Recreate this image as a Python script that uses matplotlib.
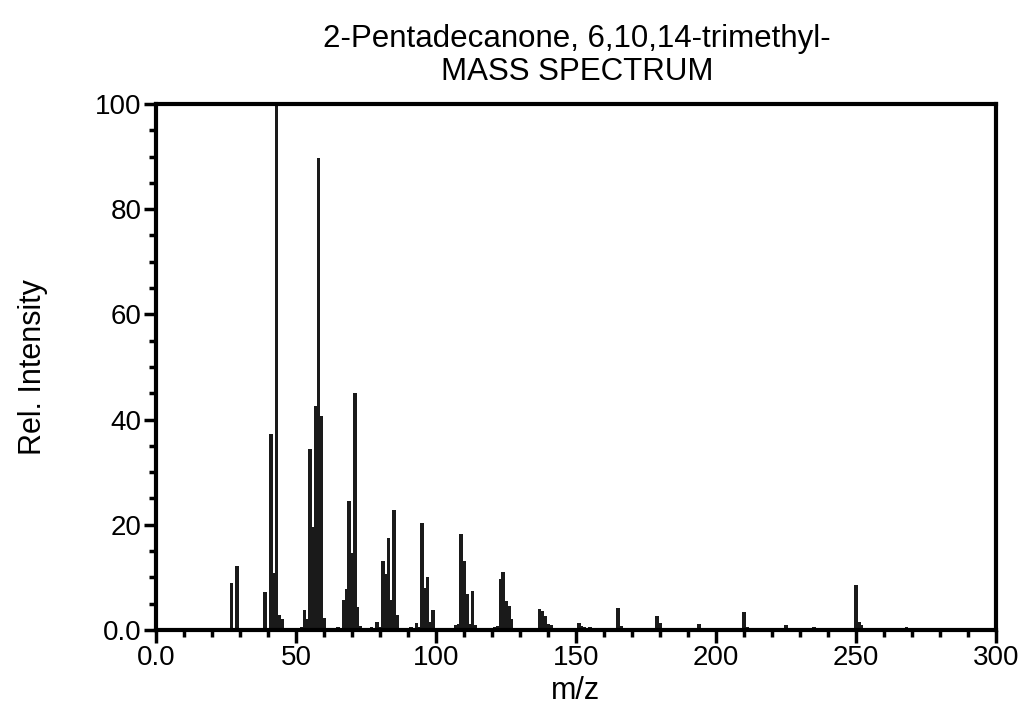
import matplotlib
matplotlib.use("Agg")
import matplotlib.pyplot as plt
from matplotlib.ticker import MultipleLocator, FixedLocator, FixedFormatter

plt.rcParams['font.family'] = ['Liberation Sans', 'DejaVu Sans']

mz = [27, 29, 39, 41, 42, 43, 44, 45, 51, 52, 53, 54, 55, 56, 57, 58, 59, 60,
      65, 66, 67, 68, 69, 70, 71, 72, 73, 77, 79, 80, 81, 82, 83, 84, 85, 86,
      91, 93, 94, 95, 96, 97, 98, 99, 107, 108, 109, 110, 111, 112, 113, 114,
      121, 122, 123, 124, 125, 126, 127, 137, 138, 139, 140, 141,
      151, 152, 153, 155, 165, 166, 179, 180, 194, 208, 210, 211,
      225, 235, 250, 251, 252, 268]
intensity = [9.0, 12.2, 7.2, 37.3, 10.8, 100.0, 2.8, 2.0, 0.4, 0.6, 3.8, 2.0, 34.5, 19.6, 42.6, 89.7, 40.7, 2.3,
             0.5, 0.4, 5.7, 7.7, 24.5, 14.7, 45.0, 4.4, 0.8, 0.5, 1.6, 0.6, 13.1, 10.6, 17.4, 5.7, 22.9, 2.8,
             0.5, 1.3, 0.5, 20.4, 8.0, 10.1, 1.5, 3.8, 1.0, 1.2, 18.3, 13.1, 6.8, 1.2, 7.5, 1.0,
             0.5, 0.8, 9.6, 11.1, 5.6, 4.6, 2.0, 4.0, 3.6, 2.6, 1.2, 1.0,
             1.4, 0.8, 0.5, 0.6, 4.1, 0.8, 2.7, 1.3, 1.1, 0.4, 3.5, 0.5,
             0.9, 0.5, 8.6, 1.5, 0.9, 0.5]

x_ticks = [0, 50, 100, 150, 200, 250, 300]
x_labels = ["0.0", "50", "100", "150", "200", "250", "300"]
y_ticks = [0, 20, 40, 60, 80, 100]
y_labels = ["0.0", "20", "40", "60", "80", "100"]

title_line1 = "2-Pentadecanone, 6,10,14-trimethyl-"
title_line2 = "MASS SPECTRUM"

fig = plt.figure(figsize=(10.25, 7.18), dpi=100)
ax = fig.add_axes([0.1522, 0.1226, 0.8195, 0.7326])

ax.bar(mz, intensity, width=1.25, color='#1a1a1a', edgecolor='none', zorder=2)

ax.set_xlim(0, 300)
ax.set_ylim(0, 100)

ax.xaxis.set_major_locator(FixedLocator(x_ticks))
ax.xaxis.set_major_formatter(FixedFormatter(x_labels))
ax.xaxis.set_minor_locator(MultipleLocator(10))
ax.yaxis.set_major_locator(FixedLocator(y_ticks))
ax.yaxis.set_major_formatter(FixedFormatter(y_labels))
ax.yaxis.set_minor_locator(MultipleLocator(5))

for s in ax.spines.values():
    s.set_linewidth(3.0)
    s.set_color('black')
    s.set_zorder(3)

ax.tick_params(which='major', direction='out', length=9, width=2.5, labelsize=20, pad=1.5, colors='black')
ax.tick_params(which='minor', direction='out', length=5, width=2.5)

ax.set_xlabel("m/z", fontsize=22, labelpad=4)
ax.set_ylabel("Rel. Intensity", fontsize=22, labelpad=34)

fig.text(0.563, 0.9457, title_line1, ha='center', va='center', fontsize=22.5)
fig.text(0.563, 0.8997, title_line2, ha='center', va='center', fontsize=22.5)

fig.savefig("out.png", dpi=100, facecolor='white')
